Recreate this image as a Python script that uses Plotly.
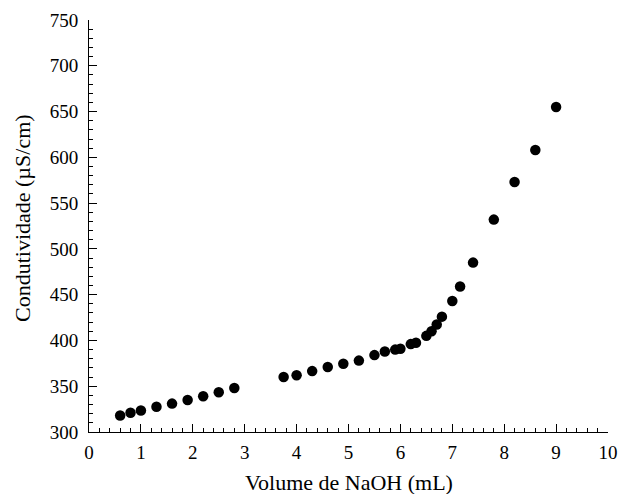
import plotly.graph_objects as go

volume_ml = [0.6, 0.8, 1.0, 1.3, 1.6, 1.9, 2.2, 2.5, 2.8,
             3.75, 4.0, 4.3, 4.6, 4.9, 5.2, 5.5, 5.7, 5.9, 6.0,
             6.2, 6.3, 6.5, 6.6, 6.7, 6.8, 7.0, 7.15, 7.4, 7.8,
             8.2, 8.6, 9.0]
conductivity = [318, 321, 323.5, 327.5, 331, 335, 339, 343.5, 348,
                360, 362, 366.5, 371, 374.5, 378, 384, 388, 390, 391,
                396, 397.5, 405, 410, 417.5, 426, 443, 459, 485, 532,
                573, 608, 655]

x_ticks = [0, 1, 2, 3, 4, 5, 6, 7, 8, 9, 10]
y_ticks = [300, 350, 400, 450, 500, 550, 600, 650, 700, 750]
x_title = "Volume de NaOH (mL)"
y_title = "Condutividade (µS/cm)"

font_family = "Liberation Serif, Times New Roman, serif"

fig = go.Figure(go.Scatter(
    x=volume_ml, y=conductivity, mode="markers",
    marker=dict(color="black", size=10.5, line=dict(width=0)),
    showlegend=False,
))

fig.update_layout(
    width=622, height=494,
    margin=dict(l=89, r=14, t=20, b=62),
    paper_bgcolor="white", plot_bgcolor="white",
    font=dict(family=font_family, size=19, color="black"),
    xaxis=dict(
        range=[0, 10], tickvals=x_ticks, ticktext=[str(v) for v in x_ticks],
        automargin=False, ticklabelstandoff=3,
        showgrid=False, zeroline=False, showline=True, linecolor="black", linewidth=1,
        ticks="inside", ticklen=8, tickcolor="black",
        minor=dict(ticks="inside", ticklen=4, dtick=0.2, tickcolor="black", showgrid=False),
    ),
    yaxis=dict(
        range=[300, 750], tickvals=y_ticks, ticktext=[str(v) for v in y_ticks],
        automargin=False, ticklabelstandoff=6,
        showgrid=False, zeroline=False, showline=True, linecolor="black", linewidth=1,
        ticks="inside", ticklen=8, tickcolor="black",
        minor=dict(ticks="inside", ticklen=4, dtick=10, tickcolor="black", showgrid=False),
    ),
    annotations=[
        dict(text=x_title, xref="paper", yref="paper", x=0.5, y=0,
             xanchor="center", yanchor="middle", yshift=-50, showarrow=False,
             font=dict(size=22)),
        dict(text=y_title, xref="paper", yref="paper", x=0, y=0.5,
             xanchor="center", yanchor="middle", xshift=-67, yshift=8,
             textangle=-90, showarrow=False, font=dict(size=22)),
    ],
)

fig.write_html(
    "out.html",
    config={"displayModeBar": False},
    post_script="document.body.style.margin='0';document.body.style.overflow='hidden';",
)
